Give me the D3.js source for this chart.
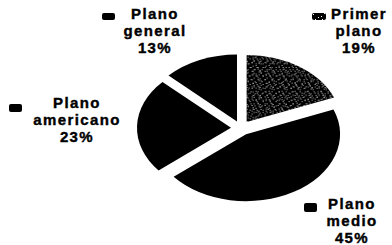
<!DOCTYPE html>
<html>
<head>
<meta charset="utf-8">
<script src="https://cdn.jsdelivr.net/npm/d3@7"></script>
<style>
  html, body { margin: 0; padding: 0; background: #fff; }
  svg { display: block; }
  .lbl { font-family: "Liberation Sans", Arial, sans-serif; font-weight: bold; font-size: 15px; letter-spacing: 1.4px; fill: #000; stroke: #000; stroke-width: 0.4px; }
</style>
</head>
<body>
<div id="chart"></div>
<script>
// slices, clockwise from 12 o'clock
const categories = ['Primer plano', 'Plano medio', 'Plano americano', 'Plano general'];
const values = [19, 45, 23, 13];
const labelLines = [['Primer', 'plano'], ['Plano', 'medio'], ['Plano', 'americano'], ['Plano', 'general']];

const width = 392;
const height = 245;

// layout of the pie (an ellipse, slices pulled out a bit)
const cx = 241, cy = 128;
const rx = 94, ry = 67;
const explode = 10;

// label blocks: centre x, first baseline, marker box
const labelPos = [
  {x: 359, y: 19, mx: 312, my: 13, mw: 14, mh: 7},
  {x: 352, y: 209, mx: 304, my: 203, mw: 13, mh: 9},
  {x: 77, y: 108, mx: 9, my: 104, mw: 13, mh: 8},
  {x: 155, y: 19, mx: 102, my: 13, mw: 13, mh: 7}
];
const lineHeight = 17;

const svg = d3.select('#chart').append('svg')
    .attr('width', width)
    .attr('height', height);

// speckled fill for "Primer plano"
const defs = svg.append('defs');
const speckA = [[1, 2], [5, 0], [9, 4], [3, 7], [11, 9], [7, 10], [0, 11], [12, 1], [6, 5], [10, 7]];
const speckB = [[2, 3], [6, 13], [4, 8], [0, 16], [5, 1], [1, 11]];
defs.append('pattern')
    .attr('id', 'speckA')
    .attr('patternUnits', 'userSpaceOnUse')
    .attr('width', 13).attr('height', 12)
  .call(p => p.append('rect').attr('width', 13).attr('height', 12).attr('fill', '#000'))
  .selectAll('rect.dot')
  .data(speckA)
  .join('rect')
    .attr('class', 'dot')
    .attr('x', d => d[0]).attr('y', d => d[1])
    .attr('width', 1).attr('height', 1)
    .attr('fill', '#fff');
defs.append('pattern')
    .attr('id', 'speckB')
    .attr('patternUnits', 'userSpaceOnUse')
    .attr('width', 7).attr('height', 17)
  .selectAll('rect')
  .data(speckB)
  .join('rect')
    .attr('x', d => d[0]).attr('y', d => d[1])
    .attr('width', 1).attr('height', 1)
    .attr('fill', '#eee');

const fills = ['url(#speckA)', '#000', '#000', '#000'];

const pie = d3.pie().sort(null).value(d => d);
const arc = d3.arc().innerRadius(0).outerRadius(rx);
const arcs = pie(values);

const g = svg.append('g')
    .attr('transform', `translate(${cx},${cy}) scale(1,${ry / rx})`);

const slices = g.selectAll('g.slice')
  .data(arcs)
  .join('g')
    .attr('class', 'slice')
    .attr('transform', d => {
      const mid = (d.startAngle + d.endAngle) / 2;
      return `translate(${Math.sin(mid) * explode},${-Math.cos(mid) * explode})`;
    });

slices.append('path')
    .attr('d', arc)
    .attr('fill', (d, i) => fills[i]);

// speckle overlay on the first slice
slices.filter((d, i) => i === 0)
  .append('path')
    .attr('d', arc)
    .attr('fill', 'url(#speckB)');

// labels
const labels = svg.selectAll('g.label')
  .data(categories)
  .join('g')
    .attr('class', 'label');

labels.append('rect')
    .attr('x', (d, i) => labelPos[i].mx)
    .attr('y', (d, i) => labelPos[i].my)
    .attr('width', (d, i) => labelPos[i].mw)
    .attr('height', (d, i) => labelPos[i].mh)
    .attr('rx', 2)
    .attr('fill', (d, i) => fills[i]);

labels.append('text')
    .attr('class', 'lbl')
    .attr('text-anchor', 'middle')
  .selectAll('tspan')
  .data((d, i) => labelLines[i].concat([values[i] + '%']).map((t, j) => ({t, j, i})))
  .join('tspan')
    .attr('x', d => labelPos[d.i].x)
    .attr('y', d => labelPos[d.i].y + d.j * lineHeight)
    .text(d => d.t);
</script>
</body>
</html>
